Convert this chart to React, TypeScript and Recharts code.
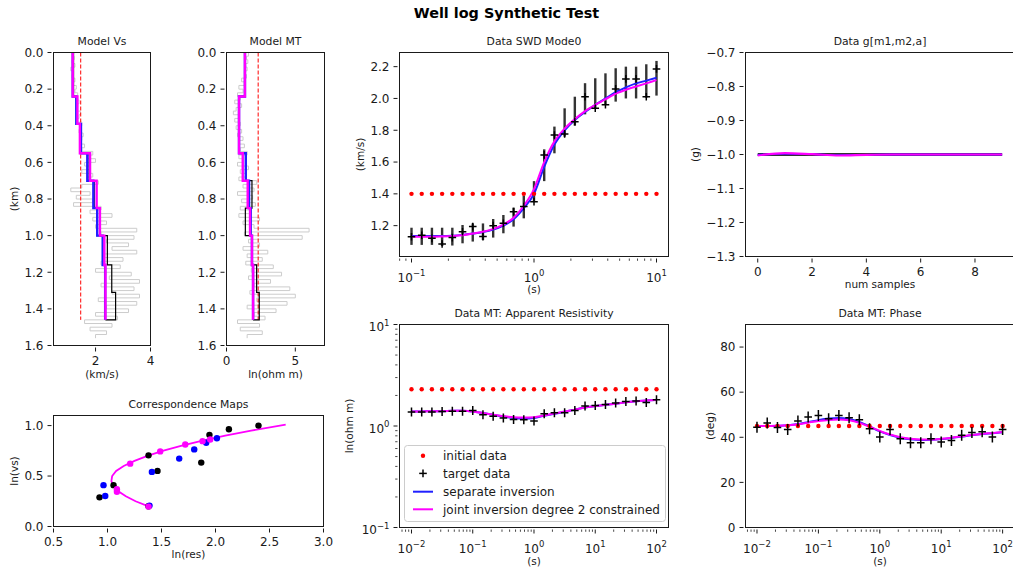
import React from "react";
import { ComposedChart, Line, Scatter, XAxis, YAxis, ErrorBar } from "recharts";

const FIG_W = 1013;
const FIG_H = 572;
const FONT = "'DejaVu Sans', sans-serif";
const INK = "#1a1a1a";
const BLUE = "#2020ff";
const MAGENTA = "#ff00ff";
const RED = "#ff0000";
const GRAY = "#cccccc";

// ---------- well logs (depth in km) ----------
const WELL_DEPTH = [
  0, 0.02, 0.04, 0.06, 0.08, 0.1, 0.12, 0.14, 0.16, 0.18,
  0.2, 0.22, 0.24, 0.26, 0.28, 0.3, 0.32, 0.34, 0.36, 0.38,
  0.4, 0.42, 0.44, 0.46, 0.48, 0.5, 0.52, 0.54, 0.56, 0.58,
  0.6, 0.62, 0.64, 0.66, 0.68, 0.7, 0.72, 0.74, 0.76, 0.78,
  0.8, 0.82, 0.84, 0.86, 0.88, 0.9, 0.92, 0.94, 0.96, 0.98,
  1.0, 1.02, 1.04, 1.06, 1.08, 1.1, 1.12, 1.14, 1.16, 1.18,
  1.2, 1.22, 1.24, 1.26, 1.28, 1.3, 1.32, 1.34, 1.36, 1.38,
  1.4, 1.42, 1.44, 1.46, 1.48, 1.5, 1.52, 1.54, 1.56,
];
const VS_LOG = [
  1.25, 1.2, 1.22, 1.15, 1.25, 1.1, 1.2, 1.15, 1.25, 1.2,
  1.3, 1.25, 1.35, 1.3, 1.4, 1.35, 1.3, 1.45, 1.4, 1.35,
  1.5, 1.45, 1.4, 1.55, 1.5, 1.45, 1.6, 1.5, 1.9, 1.7,
  2.0, 1.6, 1.8, 1.5, 1.9, 1.7, 2.1, 1.5, 1.1, 1.8,
  1.3, 1.9, 1.2, 2.2, 1.8, 2.6, 1.9, 2.4, 2.0, 3.5,
  2.2, 3.4, 2.4, 3.2, 2.6, 3.5, 2.3, 3.0, 2.2, 2.9,
  2.0, 3.3, 2.5, 3.6, 2.2, 3.4, 2.6, 3.6, 2.1, 3.5,
  2.4, 3.2, 2.0, 2.8, 1.6, 2.6, 1.8, 2.4, 2.0,
];
const MT_LOG = [
  1.5, 1.6, 1.45, 1.55, 1.4, 1.5, 1.3, 1.45, 1.1, 1.3,
  0.9, 1.2, 0.8, 1.0, 0.6, 1.1, 0.7, 0.5, 0.9, 0.6,
  1.0, 0.7, 1.1, 0.8, 1.2, 0.9, 1.3, 1.0, 1.5, 0.9,
  1.2, 0.8, 1.6, 1.0, 1.4, 0.9, 2.2, 1.2, 2.0, 0.8,
  1.9, 1.1, 2.1, 1.0, 1.8, 0.9, 2.4, 1.2, 2.0, 6.0,
  1.3, 5.5, 1.6, 2.4, 1.2, 3.0, 1.5, 2.6, 1.4, 3.4,
  1.8, 4.0, 1.6, 3.2, 2.0, 4.6, 1.7, 5.0, 2.2, 4.4,
  1.5, 3.6, 2.0, 2.8, 0.8, 2.4, 1.0, 2.6, 1.5,
];

// ---------- layered models ----------
const TRUE_TOPS = [0, 0.24, 0.39, 0.55, 0.7, 0.85, 1.0, 1.16, 1.31, 1.46];
const INV_TOPS = [0, 0.24, 0.39, 0.55, 0.7, 0.85, 1.0, 1.16, 1.46];
const VS_TRUE = [1.2, 1.3, 1.47, 1.72, 1.95, 2.05, 2.43, 2.59, 2.73];
const VS_TRUE_BASE = 2.36;
const VS_SEPARATE = [1.17, 1.3, 1.47, 1.7, 1.92, 2.06, 2.26, 2.35];
const VS_JOINT = [1.17, 1.34, 1.43, 1.8, 2.04, 2.16, 2.32, 2.36];
const VS_INITIAL = 1.46;
const MT_TRUE = [1.34, 0.91, 0.91, 1.42, 1.85, 1.37, 1.85, 2.19, 2.38];
const MT_TRUE_BASE = 1.93;
const MT_SEPARATE = [1.34, 0.91, 0.91, 1.4, 1.64, 1.76, 1.85, 1.93];
const MT_JOINT = [1.34, 0.91, 0.91, 1.18, 1.54, 1.71, 1.85, 1.93];
const MT_INITIAL = 2.3;
const MODEL_BOTTOM = 1.46;

// ---------- surface wave dispersion ----------
const SWD_PERIODS = [
  0.1, 0.1212, 0.1468, 0.1778, 0.2154, 0.261, 0.3162, 0.3831, 0.4642, 0.5623, 0.6813, 0.8254, 1,
  1.2115, 1.4678, 1.7783, 2.1544, 2.6102, 3.1623, 3.8312, 4.6416, 5.6234, 6.8129, 8.254, 10,
];
const SWD_TARGET = [
  1.13, 1.14, 1.12, 1.085, 1.125, 1.162, 1.194, 1.131, 1.2, 1.215, 1.288, 1.32, 1.351,
  1.645, 1.77, 1.777, 1.854, 2.011, 1.938, 1.96, 2.06, 2.123, 2.123, 2.011, 2.186,
];
const SWD_BAR_LOW = [
  1.079, 1.079, 1.079, 1.072, 1.075, 1.089, 1.1, 1.11, 1.125, 1.152, 1.194, 1.246, 1.35,
  1.48, 1.655, 1.76, 1.829, 1.9, 1.938, 1.959, 1.98, 2.0, 2.0, 2.005, 2.018,
];
const SWD_BAR_HIGH = [
  1.187, 1.187, 1.187, 1.187, 1.187, 1.204, 1.214, 1.214, 1.242, 1.267, 1.313, 1.389, 1.48,
  1.68, 1.823, 1.938, 2.011, 2.096, 2.127, 2.158, 2.19, 2.2, 2.2, 2.215, 2.236,
];
const SWD_SEPARATE = [
  1.135, 1.135, 1.135, 1.135, 1.137, 1.142, 1.15, 1.16, 1.175, 1.2, 1.24, 1.31, 1.4,
  1.57, 1.71, 1.8, 1.865, 1.915, 1.96, 2.0, 2.04, 2.07, 2.095, 2.112, 2.13,
];
const SWD_JOINT = [
  1.13, 1.13, 1.13, 1.132, 1.135, 1.14, 1.15, 1.162, 1.18, 1.207, 1.25, 1.325, 1.43,
  1.6, 1.73, 1.81, 1.87, 1.92, 1.96, 1.995, 2.03, 2.055, 2.075, 2.095, 2.115,
];
const SWD_INITIAL = [
  1.4, 1.4, 1.4, 1.4, 1.4, 1.4, 1.4, 1.4, 1.4, 1.4, 1.4, 1.4, 1.4,
  1.4, 1.4, 1.4, 1.4, 1.4, 1.4, 1.4, 1.4, 1.4, 1.4, 1.4, 1.4,
];

// ---------- g[m1,m2,a] ----------
const G_SAMPLES = [0, 1, 2, 3, 4, 5, 6, 7, 8, 9];
const G_TARGET = [-1, -1, -1, -1, -1, -1, -1, -1, -1, -1];
const G_SEPARATE = [-1.001, -0.998, -0.999, -1.002, -1.001, -1, -1, -1, -1, -1];
const G_JOINT = [-1.003, -0.996, -0.999, -1.003, -1.001, -1, -1, -1, -1, -1];

// ---------- MT ----------
const MT_PERIODS = [
  0.01, 0.01468, 0.02154, 0.03162, 0.04642, 0.06813, 0.1, 0.1468, 0.2154, 0.3162, 0.4642, 0.6813, 1,
  1.468, 2.154, 3.162, 4.642, 6.813, 10, 14.68, 21.54, 31.62, 46.42, 68.13, 100,
];
const RHO_TARGET = [
  1.37, 1.37, 1.37, 1.39, 1.4, 1.4, 1.42, 1.29, 1.245, 1.197, 1.16, 1.155, 1.12,
  1.32, 1.35, 1.35, 1.425, 1.57, 1.596, 1.633, 1.683, 1.747, 1.76, 1.7, 1.815,
];
const RHO_SEPARATE = [
  1.39, 1.39, 1.4, 1.4, 1.41, 1.41, 1.39, 1.34, 1.29, 1.24, 1.2, 1.185, 1.2,
  1.26, 1.32, 1.38, 1.45, 1.52, 1.57, 1.62, 1.66, 1.71, 1.75, 1.78, 1.81,
];
const RHO_JOINT = [
  1.39, 1.39, 1.4, 1.4, 1.41, 1.41, 1.39, 1.34, 1.29, 1.25, 1.22, 1.21, 1.22,
  1.27, 1.33, 1.39, 1.45, 1.52, 1.57, 1.62, 1.66, 1.71, 1.75, 1.78, 1.81,
];
const RHO_INITIAL = [
  2.3, 2.3, 2.3, 2.3, 2.3, 2.3, 2.3, 2.3, 2.3, 2.3, 2.3, 2.3, 2.3,
  2.3, 2.3, 2.3, 2.3, 2.3, 2.3, 2.3, 2.3, 2.3, 2.3, 2.3, 2.3,
];
const PHASE_TARGET = [
  44.5, 46.3, 44.3, 43.4, 47.2, 49, 49.7, 48.2, 49.7, 48.7, 47.8, 43.8, 40.1,
  43.4, 39.4, 37.6, 37.6, 39.4, 37.9, 38.6, 40.9, 42.1, 42.4, 40.1, 43.4,
];
const PHASE_SEPARATE = [
  45, 45, 45.1, 45.3, 45.9, 46.7, 47.6, 48.3, 48.6, 48.1, 46.8, 44.8, 42.6,
  41, 39.8, 39.1, 38.8, 38.9, 39.2, 39.7, 40.3, 40.9, 41.4, 41.8, 42.2,
];
const PHASE_JOINT = [
  45, 45, 45.1, 45.3, 45.8, 46.5, 47.2, 47.7, 47.9, 47.5, 46.4, 44.7, 42.8,
  41.2, 40, 39.3, 39, 39, 39.3, 39.8, 40.4, 41, 41.5, 41.9, 42.3,
];
const PHASE_INITIAL = [
  45, 45, 45, 45, 45, 45, 45, 45, 45, 45, 45, 45, 45,
  45, 45, 45, 45, 45, 45, 45, 45, 45, 45, 45, 45,
];

// ---------- correspondence maps ----------
const CORR_TRUE_RES = [1.38, 0.926, 1.056, 1.463, 1.868, 1.38, 1.944, 2.124, 2.398];
const CORR_TRUE_VS = [0.2, 0.289, 0.41, 0.551, 0.633, 0.705, 0.908, 0.964, 1.0];
const CORR_SEP_RES = [1.389, 0.963, 0.979, 1.411, 1.664, 1.803, 1.914, 2.013];
const CORR_SEP_VS = [0.207, 0.41, 0.302, 0.541, 0.673, 0.764, 0.83, 0.875];
const CORR_JOINT_RES = [1.38, 1.087, 1.087, 1.21, 1.488, 1.72, 1.88, 1.951];
const CORR_JOINT_VS = [0.197, 0.344, 0.37, 0.623, 0.744, 0.813, 0.846, 0.862];
const CORR_CURVE_RES = [1.38, 1.26, 1.17, 1.1, 1.055, 1.036, 1.043, 1.08, 1.15, 1.25, 1.37, 1.51, 1.68, 1.88, 2.09, 2.33, 2.65];
const CORR_CURVE_VS = [0.2, 0.25, 0.3, 0.35, 0.4, 0.45, 0.5, 0.55, 0.6, 0.65, 0.7, 0.75, 0.8, 0.85, 0.9, 0.95, 1.01];

// ---------- ticks ----------
const DEPTH_TICKS = [0, 0.2, 0.4, 0.6, 0.8, 1.0, 1.2, 1.4, 1.6];
const VS_X_TICKS = [2, 4];
const MT_X_TICKS = [0, 5];
const SWD_Y_TICKS = [1.2, 1.4, 1.6, 1.8, 2.0, 2.2];
const SWD_X_TICKS = [0.08, 0.09, 0.1, 0.2, 0.3, 0.4, 0.5, 0.6, 0.7, 0.8, 0.9, 1, 2, 3, 4, 5, 6, 7, 8, 9, 10];
const G_X_TICKS = [0, 2, 4, 6, 8];
const G_Y_TICKS = [-1.3, -1.2, -1.1, -1.0, -0.9, -0.8, -0.7];
const CORR_X_TICKS = [0.5, 1, 1.5, 2, 2.5, 3];
const CORR_Y_TICKS = [0, 0.5, 1];
const MT_X_LOG_TICKS = [
  0.007, 0.008, 0.009, 0.01, 0.02, 0.03, 0.04, 0.05, 0.06, 0.07, 0.08, 0.09,
  0.1, 0.2, 0.3, 0.4, 0.5, 0.6, 0.7, 0.8, 0.9, 1, 2, 3, 4, 5, 6, 7, 8, 9,
  10, 20, 30, 40, 50, 60, 70, 80, 90, 100,
];
const RHO_Y_TICKS = [0.1, 0.2, 0.3, 0.4, 0.5, 0.6, 0.7, 0.8, 0.9, 1, 2, 3, 4, 5, 6, 7, 8, 9, 10];
const PHASE_Y_TICKS = [0, 20, 40, 60, 80];

// ---------- layout ----------
type Rect = { l: number; t: number; r: number; b: number };
const RECT_VS: Rect = { l: 53.5, t: 52.5, r: 150.5, b: 345.5 };
const RECT_MT: Rect = { l: 226.5, t: 52.5, r: 324.5, b: 345.5 };
const RECT_SWD: Rect = { l: 399.5, t: 52.5, r: 668.5, b: 256.5 };
const RECT_G: Rect = { l: 745.5, t: 52.5, r: 1013, b: 256.5 };
const RECT_CORR: Rect = { l: 53.5, t: 415.5, r: 323.5, b: 526.5 };
const RECT_RHO: Rect = { l: 399.5, t: 324.5, r: 668.5, b: 527.5 };
const RECT_PHASE: Rect = { l: 745.5, t: 324.5, r: 1013, b: 527.5 };

// axes keep a real size so recharts draws their ticks; margins take the rest
const AX_W = 40;
const AX_H = 30;
const marginOf = (r: Rect) => ({ top: r.t, left: r.l - AX_W, right: FIG_W - r.r, bottom: FIG_H - r.b - AX_H });

type Pt = { x: number; y: number };
const zipRows = (xs: number[], ys: number[]): Pt[] => xs.map((x, i) => ({ x, y: ys[i] }));

function stepRows(tops: number[], vals: number[], base?: number): Pt[] {
  const rows: Pt[] = [];
  vals.forEach((v, i) => {
    rows.push({ x: v, y: tops[i] });
    rows.push({ x: v, y: tops[i + 1] });
  });
  if (base !== undefined) rows.push({ x: base, y: tops[tops.length - 1] });
  return rows;
}

// ---------- tick renderers ----------
const TICK_LEN = 4;
const MINOR_LEN = 2.3;
const TICK_PAD = 4;
const TICK_FONT = 12;

const minus = (s: string) => s.replace("-", "\u2212");
const isDecade = (v: number) => Math.abs(Math.log10(v) - Math.round(Math.log10(v))) < 1e-6;
const expOf = (v: number) => minus(String(Math.round(Math.log10(v))));

function linXTick(digits: number) {
  return (p: any) => {
    const { x, y, payload } = p;
    return (
      <g>
        <line x1={x} x2={x} y1={y} y2={y + TICK_LEN} stroke={INK} strokeWidth={1} />
        <text x={x} y={y + TICK_LEN + TICK_PAD + 9.6} textAnchor="middle" fontSize={TICK_FONT} fontFamily={FONT} fill={INK}>
          {minus(payload.value.toFixed(digits))}
        </text>
      </g>
    );
  };
}

function linYTick(digits: number) {
  return (p: any) => {
    const { x, y, payload } = p;
    return (
      <g>
        <line x1={x} x2={x - TICK_LEN} y1={y} y2={y} stroke={INK} strokeWidth={1} />
        <text x={x - TICK_LEN - TICK_PAD} y={y + 4.3} textAnchor="end" fontSize={TICK_FONT} fontFamily={FONT} fill={INK}>
          {minus(payload.value.toFixed(digits))}
        </text>
      </g>
    );
  };
}

function logXTick(p: any) {
  const { x, y, payload } = p;
  const v = payload.value;
  if (!isDecade(v)) return <line x1={x} x2={x} y1={y} y2={y + MINOR_LEN} stroke={INK} strokeWidth={0.8} />;
  return (
    <g>
      <line x1={x} x2={x} y1={y} y2={y + TICK_LEN} stroke={INK} strokeWidth={1} />
      <text x={x} y={y + 23} textAnchor="middle" fontSize={TICK_FONT} fontFamily={FONT} fill={INK}>
        10<tspan fontSize={8.5} dy={-5.5}>{expOf(v)}</tspan>
      </text>
    </g>
  );
}

function logYTick(p: any) {
  const { x, y, payload } = p;
  const v = payload.value;
  if (!isDecade(v)) return <line x1={x} x2={x - MINOR_LEN} y1={y} y2={y} stroke={INK} strokeWidth={0.8} />;
  return (
    <g>
      <line x1={x} x2={x - TICK_LEN} y1={y} y2={y} stroke={INK} strokeWidth={1} />
      <text x={x - TICK_LEN - TICK_PAD} y={y + 6.5} textAnchor="end" fontSize={TICK_FONT} fontFamily={FONT} fill={INK}>
        10<tspan fontSize={8.5} dy={-5.5}>{expOf(v)}</tspan>
      </text>
    </g>
  );
}

// ---------- marker shapes ----------
const plusShape = (h: number, v: number) => (p: any) => {
  const { cx, cy } = p;
  if (cx == null || cy == null) return <g />;
  return (
    <g>
      <line x1={cx - h} x2={cx + h} y1={cy} y2={cy} stroke="#000" strokeWidth={1.5} />
      <line x1={cx} x2={cx} y1={cy - v} y2={cy + v} stroke="#000" strokeWidth={1.5} />
    </g>
  );
};
const dotShape = (r: number, color: string) => (p: any) =>
  p.cx == null ? <g /> : <circle cx={p.cx} cy={p.cy} r={r} fill={color} />;
const noShape = () => <g />;

const xBase = {
  type: "number" as const, dataKey: "x", allowDataOverflow: true, interval: 0 as const,
  height: AX_H, tickSize: 0, tickLine: false, axisLine: false,
};
const yBase = {
  type: "number" as const, dataKey: "y", allowDataOverflow: true, interval: 0 as const,
  width: AX_W, tickSize: 0, tickLine: false, axisLine: false,
};

function Layer({ children }: { children: React.ReactNode }) {
  return <div style={{ position: "absolute", left: 0, top: 0 }}>{children}</div>;
}

// ---------- panels ----------
function ModelPanel(props: {
  rect: Rect; xDomain: [number, number]; xTicks: number[]; log: number[];
  initial: number; trueRows: Pt[]; sepRows: Pt[]; jointRows: Pt[];
}) {
  const { rect, xDomain, xTicks, log, initial, trueRows, sepRows, jointRows } = props;
  const logRows = WELL_DEPTH.map((d, i) => ({ x: log[i], y: d }));
  const initRows = [{ x: initial, y: 0 }, { x: initial, y: MODEL_BOTTOM }];
  return (
    <Layer>
      <ComposedChart width={FIG_W} height={FIG_H} margin={marginOf(rect)}>
        <XAxis {...xBase} domain={xDomain} ticks={xTicks} tick={linXTick(0)} />
        <YAxis {...yBase} domain={[0, 1.6]} reversed ticks={DEPTH_TICKS} tick={linYTick(1)} />
        <Line data={logRows} dataKey="y" type="stepAfter" stroke={GRAY} strokeWidth={1} dot={false} isAnimationActive={false} />
        <Line data={initRows} dataKey="y" stroke={RED} strokeWidth={1} strokeDasharray="4 2" dot={false} isAnimationActive={false} />
        <Line data={trueRows} dataKey="y" stroke="#000" strokeWidth={1.2} dot={false} isAnimationActive={false} />
        <Line data={sepRows} dataKey="y" stroke={BLUE} strokeWidth={2.4} dot={false} isAnimationActive={false} />
        <Line data={jointRows} dataKey="y" stroke={MAGENTA} strokeWidth={2.4} dot={false} isAnimationActive={false} />
      </ComposedChart>
    </Layer>
  );
}

function SwdPanel() {
  const barRows = SWD_PERIODS.map((p, i) => ({ x: p, y: SWD_BAR_LOW[i], err: [0, SWD_BAR_HIGH[i] - SWD_BAR_LOW[i]] }));
  return (
    <Layer>
      <ComposedChart width={FIG_W} height={FIG_H} margin={marginOf(RECT_SWD)}>
        <XAxis {...xBase} scale="log" domain={[0.0798, 12.53]} ticks={SWD_X_TICKS} tick={logXTick} />
        <YAxis {...yBase} domain={[1.006, 2.289]} ticks={SWD_Y_TICKS} tick={linYTick(1)} />
        <Scatter data={zipRows(SWD_PERIODS, SWD_INITIAL)} dataKey="y" shape={dotShape(2.2, RED)} isAnimationActive={false} />
        <Scatter data={barRows} dataKey="y" shape={noShape} isAnimationActive={false}>
          <ErrorBar dataKey="err" direction="y" width={0} stroke="#333" strokeWidth={2.4} isAnimationActive={false} />
        </Scatter>
        <Scatter data={zipRows(SWD_PERIODS, SWD_TARGET)} dataKey="y" shape={plusShape(3.8, 3.8)} isAnimationActive={false} />
        <Line data={zipRows(SWD_PERIODS, SWD_SEPARATE)} dataKey="y" type="monotone" stroke={BLUE} strokeWidth={2} dot={false} isAnimationActive={false} />
        <Line data={zipRows(SWD_PERIODS, SWD_JOINT)} dataKey="y" type="monotone" stroke={MAGENTA} strokeWidth={2} dot={false} isAnimationActive={false} />
      </ComposedChart>
    </Layer>
  );
}

function GPanel() {
  return (
    <Layer>
      <ComposedChart width={FIG_W} height={FIG_H} margin={marginOf(RECT_G)}>
        <XAxis {...xBase} domain={[-0.45, 9.4]} ticks={G_X_TICKS} tick={linXTick(0)} />
        <YAxis {...yBase} domain={[-1.3, -0.7]} ticks={G_Y_TICKS} tick={linYTick(1)} />
        <Line data={zipRows(G_SAMPLES, G_TARGET)} dataKey="y" stroke="#333" strokeWidth={2.8} dot={false} isAnimationActive={false} />
        <Line data={zipRows(G_SAMPLES, G_SEPARATE)} dataKey="y" type="monotone" stroke={BLUE} strokeWidth={1.8} dot={false} isAnimationActive={false} />
        <Line data={zipRows(G_SAMPLES, G_JOINT)} dataKey="y" type="monotone" stroke={MAGENTA} strokeWidth={2.2} dot={false} isAnimationActive={false} />
      </ComposedChart>
    </Layer>
  );
}

function CorrPanel() {
  return (
    <Layer>
      <ComposedChart width={FIG_W} height={FIG_H} margin={marginOf(RECT_CORR)}>
        <XAxis {...xBase} domain={[0.5, 3.0]} ticks={CORR_X_TICKS} tick={linXTick(1)} />
        <YAxis {...yBase} domain={[0, 1.1]} ticks={CORR_Y_TICKS} tick={linYTick(1)} />
        <Line data={zipRows(CORR_CURVE_RES, CORR_CURVE_VS)} dataKey="y" stroke={MAGENTA} strokeWidth={1.8} dot={false} isAnimationActive={false} />
        <Scatter data={zipRows(CORR_TRUE_RES, CORR_TRUE_VS)} dataKey="y" shape={dotShape(3.2, "#000")} isAnimationActive={false} />
        <Scatter data={zipRows(CORR_SEP_RES, CORR_SEP_VS)} dataKey="y" shape={dotShape(3.2, "#0000ff")} isAnimationActive={false} />
        <Scatter data={zipRows(CORR_JOINT_RES, CORR_JOINT_VS)} dataKey="y" shape={dotShape(3.2, MAGENTA)} isAnimationActive={false} />
      </ComposedChart>
    </Layer>
  );
}

function RhoPanel() {
  return (
    <Layer>
      <ComposedChart width={FIG_W} height={FIG_H} margin={marginOf(RECT_RHO)}>
        <XAxis {...xBase} scale="log" domain={[0.00637, 157]} ticks={MT_X_LOG_TICKS} tick={logXTick} />
        <YAxis {...yBase} scale="log" domain={[0.1, 10]} ticks={RHO_Y_TICKS} tick={logYTick} />
        <Scatter data={zipRows(MT_PERIODS, RHO_INITIAL)} dataKey="y" shape={dotShape(2.2, RED)} isAnimationActive={false} />
        <Scatter data={zipRows(MT_PERIODS, RHO_TARGET)} dataKey="y" shape={plusShape(3.8, 4.5)} isAnimationActive={false} />
        <Line data={zipRows(MT_PERIODS, RHO_SEPARATE)} dataKey="y" type="monotone" stroke={BLUE} strokeWidth={2} dot={false} isAnimationActive={false} />
        <Line data={zipRows(MT_PERIODS, RHO_JOINT)} dataKey="y" type="monotone" stroke={MAGENTA} strokeWidth={2} dot={false} isAnimationActive={false} />
      </ComposedChart>
    </Layer>
  );
}

function PhasePanel() {
  return (
    <Layer>
      <ComposedChart width={FIG_W} height={FIG_H} margin={marginOf(RECT_PHASE)}>
        <XAxis {...xBase} scale="log" domain={[0.0065, 147.6]} ticks={MT_X_LOG_TICKS} tick={logXTick} />
        <YAxis {...yBase} domain={[0, 90]} ticks={PHASE_Y_TICKS} tick={linYTick(0)} />
        <Scatter data={zipRows(MT_PERIODS, PHASE_INITIAL)} dataKey="y" shape={dotShape(2.2, RED)} isAnimationActive={false} />
        <Scatter data={zipRows(MT_PERIODS, PHASE_TARGET)} dataKey="y" shape={plusShape(3.8, 5.5)} isAnimationActive={false} />
        <Line data={zipRows(MT_PERIODS, PHASE_SEPARATE)} dataKey="y" type="monotone" stroke={BLUE} strokeWidth={2} dot={false} isAnimationActive={false} />
        <Line data={zipRows(MT_PERIODS, PHASE_JOINT)} dataKey="y" type="monotone" stroke={MAGENTA} strokeWidth={2} dot={false} isAnimationActive={false} />
      </ComposedChart>
    </Layer>
  );
}

// ---------- frames, titles, labels, legend ----------
const PANEL_TEXT = [
  { rect: RECT_VS, title: "Model Vs", xlabel: "(km/s)", xlabelY: 378, ylabel: "(km)", ylabelX: 17.5 },
  { rect: RECT_MT, title: "Model MT", xlabel: "ln(ohm m)", xlabelY: 378 },
  { rect: RECT_SWD, title: "Data SWD Mode0", xlabel: "(s)", xlabelY: 293, ylabel: "(km/s)", ylabelX: 364 },
  { rect: RECT_G, title: "Data g[m1,m2,a]", xlabel: "num samples", xlabelY: 288, ylabel: "(g)", ylabelX: 699, width: 269 },
  { rect: RECT_CORR, title: "Correspondence Maps", xlabel: "ln(res)", xlabelY: 558, ylabel: "ln(vs)", ylabelX: 17.5 },
  { rect: RECT_RHO, title: "Data MT: Apparent Resistivity", xlabel: "(s)", xlabelY: 565, ylabel: "ln(ohm m)", ylabelX: 352.5 },
  { rect: RECT_PHASE, title: "Data MT: Phase", xlabel: "(s)", xlabelY: 565, ylabel: "(deg)", ylabelX: 714, width: 269 },
];

function Overlay() {
  return (
    <svg width={FIG_W} height={FIG_H} style={{ position: "absolute", left: 0, top: 0 }} fontFamily={FONT} fill={INK}>
      {PANEL_TEXT.map((p, i) => {
        const w = p.width ?? p.rect.r - p.rect.l;
        const cx = p.rect.l + w / 2;
        const cy = (p.rect.t + p.rect.b) / 2;
        return (
          <g key={i}>
            <rect x={p.rect.l} y={p.rect.t} width={w} height={p.rect.b - p.rect.t} fill="none" stroke={INK} strokeWidth={1} />
            <text x={cx} y={p.rect.t - 7.2} textAnchor="middle" fontSize={10.8}>{p.title}</text>
            <text x={cx} y={p.xlabelY} textAnchor="middle" fontSize={10.5}>{p.xlabel}</text>
            {p.ylabel && (
              <text x={p.ylabelX} y={cy} textAnchor="middle" fontSize={10.5} transform={`rotate(-90 ${p.ylabelX} ${cy})`}>
                {p.ylabel}
              </text>
            )}
          </g>
        );
      })}
      <text x={506.5} y={17.5} textAnchor="middle" fontSize={14.4} fontWeight="bold" fill="#000">
        Well log Synthetic Test
      </text>
      <g>
        <rect x={404.5} y={445.5} width={261} height={76} rx={3} fill="#fff" fillOpacity={0.8} stroke="#cccccc" />
        <circle cx={423} cy={455.7} r={2.2} fill={RED} />
        <text x={443} y={460} fontSize={12}>initial data</text>
        <line x1={419.2} x2={426.8} y1={473.4} y2={473.4} stroke="#000" strokeWidth={1.5} />
        <line x1={423} x2={423} y1={469.6} y2={477.2} stroke="#000" strokeWidth={1.5} />
        <text x={443} y={477.7} fontSize={12}>target data</text>
        <line x1={413} x2={433} y1={491.7} y2={491.7} stroke={BLUE} strokeWidth={2} />
        <text x={443} y={496} fontSize={12}>separate inversion</text>
        <line x1={413} x2={433} y1={509.3} y2={509.3} stroke={MAGENTA} strokeWidth={2} />
        <text x={443} y={513.6} fontSize={12}>joint inversion degree 2 constrained</text>
      </g>
    </svg>
  );
}

export default function App() {
  return (
    <div style={{ position: "absolute", left: 0, top: 0, width: FIG_W, height: FIG_H, overflow: "hidden", background: "#fff", fontFamily: FONT }}>
      <ModelPanel
        rect={RECT_VS} xDomain={[0.47, 4]} xTicks={VS_X_TICKS} log={VS_LOG} initial={VS_INITIAL}
        trueRows={stepRows(TRUE_TOPS, VS_TRUE, VS_TRUE_BASE)}
        sepRows={stepRows(INV_TOPS, VS_SEPARATE)}
        jointRows={stepRows(INV_TOPS, VS_JOINT)}
      />
      <ModelPanel
        rect={RECT_MT} xDomain={[0, 7.12]} xTicks={MT_X_TICKS} log={MT_LOG} initial={MT_INITIAL}
        trueRows={stepRows(TRUE_TOPS, MT_TRUE, MT_TRUE_BASE)}
        sepRows={stepRows(INV_TOPS, MT_SEPARATE)}
        jointRows={stepRows(INV_TOPS, MT_JOINT)}
      />
      <SwdPanel />
      <GPanel />
      <CorrPanel />
      <RhoPanel />
      <PhasePanel />
      <Overlay />
    </div>
  );
}
